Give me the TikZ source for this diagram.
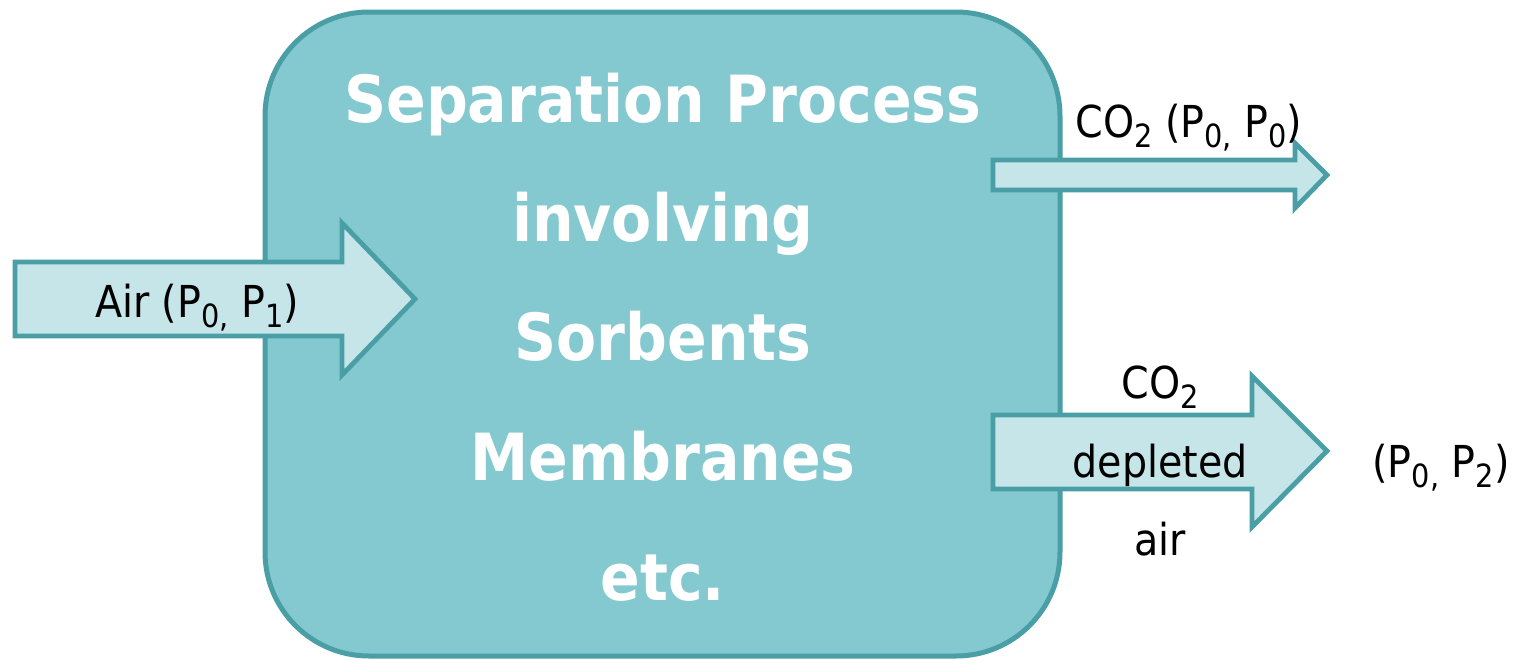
\documentclass[tikz,border=0pt]{standalone}
\usepackage{fontspec}
\setmainfont{DejaVu Sans Condensed}
\usepackage{tikz}
\definecolor{tealline}{HTML}{4A9EA5}
\definecolor{tealfill}{HTML}{84C9CF}
\definecolor{paleteal}{HTML}{C5E5E8}
\tikzset{every picture/.style={line width=0.75pt}}
\tikzset{
  bigtext/.style={anchor=base, inner sep=0pt, text=white, font=\fontsize{32.5}{40}\selectfont\bfseries},
  flowtext/.style={anchor=base, inner sep=0pt, font=\fontsize{22}{26}\selectfont},
  blockarrow/.style={color=tealline, line width=2.4pt, fill=paleteal, line join=miter}
}
\newcommand{\lowsub}[1]{\raisebox{-0.45ex}{\fontsize{16}{16}\selectfont #1}}

\begin{document}
\begin{tikzpicture}[x=0.5pt,y=0.5pt,yscale=-1,xscale=1]
\useasboundingbox (0,0) rectangle (1523,660);

%Rounded Rect [process]
\draw [color=tealline, line width=2.5pt, fill=tealfill, rounded corners=52pt] (265,12) rectangle (1060,656) ;
%Right Arrow [air in]
\draw [blockarrow] (15,262) -- (342,262) -- (342,223) -- (415,299) -- (342,375) -- (342,336) -- (15,336) -- cycle ;
%Right Arrow [co2 out]
\draw [blockarrow] (993,160) -- (1295,160) -- (1295,143) -- (1327,175) -- (1295,208) -- (1295,190) -- (993,190) -- cycle ;
%Right Arrow [depleted air out]
\draw [blockarrow] (993,415) -- (1252,415) -- (1252,376) -- (1327,451) -- (1252,527) -- (1252,489) -- (993,489) -- cycle ;

% Text Node
\node [bigtext] (sep) at (663,122) {Separation Process};
\node [bigtext] (inv) at (663,241) {involving};
\node [bigtext] (sorb) at (663,360) {Sorbents};
\node [bigtext] (memb) at (663,480) {Membranes};
\node [bigtext] (etc) at (663,600) {etc.};
% Text Node
\node [flowtext] (air) at (197,317) {Air (P\lowsub{0,} P\lowsub{1})};
\node [flowtext] (co2) at (1189,137) {CO\lowsub{2} (P\lowsub{0,} P\lowsub{0})};
\node [flowtext] (co2b) at (1160,398) {CO\lowsub{2}};
\node [flowtext] (depl) at (1160,477) {depleted};
\node [flowtext] (dair) at (1160,555) {air};
\node [flowtext] (ptwo) at (1441,477) {(P\lowsub{0,} P\lowsub{2})};
\end{tikzpicture}
\end{document}
